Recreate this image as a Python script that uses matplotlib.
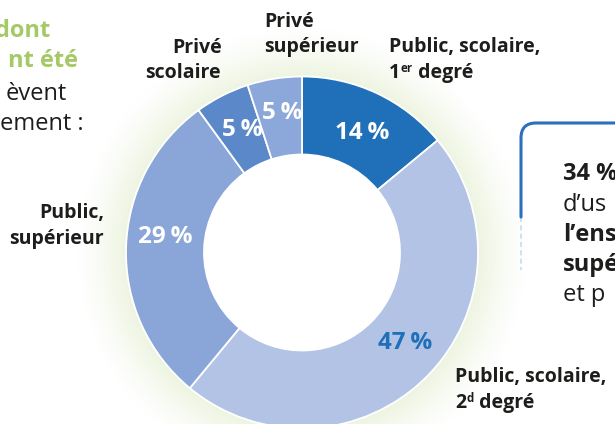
import numpy as np
import matplotlib.pyplot as plt
from matplotlib.path import Path
from matplotlib.patches import PathPatch

# data
categories = ["Public, scolaire, 1er degré", "Public, scolaire, 2d degré",
              "Public, supérieur", "Privé scolaire", "Privé supérieur"]
shares = [14, 47, 29, 5, 5]
colors = ["#1f70b8", "#b3c3e5", "#8aa5d8", "#5a88c8", "#8ca7da"]
pct_colors = ["white", "#1f70b8", "white", "white", "white"]

W, H = 615, 424
fig = plt.figure(figsize=(W / 100, H / 100), dpi=100)
ax = fig.add_axes([0, 0, 1, 1])

def fy(y):
    # image rows -> axis y
    return H - y

cx, cy = 302, fy(252.5)
R, r = 176, 98

# soft green glow round the outside of the ring only
xx, yy = np.meshgrid(np.arange(W) + 0.5, np.arange(H) + 0.5)
d = np.hypot(xx - cx, (H - yy) - cy)
alpha = np.clip(1 - (d - R) / 50, 0, 1) ** 1.3 * 0.6
alpha[d < R - 4] = 0
glow = np.zeros((H, W, 4))
glow[..., 0], glow[..., 1], glow[..., 2] = 0.89, 0.93, 0.80
glow[..., 3] = alpha
ax.imshow(glow, extent=(0, W, 0, H), origin="upper", zorder=0)

wedges, _ = ax.pie(shares, colors=colors, startangle=90, counterclock=False,
                   radius=R, center=(cx, cy),
                   wedgeprops=dict(width=R - r, edgecolor="white", linewidth=1.3))
for w in wedges:
    w.set_zorder(2)
ax.set_xlim(0, W)
ax.set_ylim(0, H)
ax.set_aspect("equal")
ax.axis("off")

fam = ["Open Sans", "DejaVu Sans"]
dark = "#1d1d1b"

# percentage labels
pct_pos = [(362, 133), (405, 343), (165, 237), (242, 130), (282, 113)]
for v, (x, y), c in zip(shares, pct_pos, pct_colors):
    ax.text(x, fy(y), f"{v}\u2009%", color=c, fontsize=17.5, fontweight="bold",
            family=fam, ha="center", va="center", zorder=3)

fig.canvas.draw()
rend = fig.canvas.get_renderer()

def runs(x, y, pieces, size=14):
    # pieces: (text, superscript?)
    for txt, sup in pieces:
        t = ax.text(x, fy(y) + (6 if sup else 0), txt, fontsize=size * (0.6 if sup else 1),
                    fontweight="bold", family=fam, color=dark, ha="left",
                    va="baseline", zorder=3)
        x += t.get_window_extent(rend).width + (1 if sup else 0)

lab = dict(fontsize=14, fontweight="bold", family=fam, color=dark, zorder=3,
           va="baseline")
ax.text(222, fy(53), "Privé", ha="right", **lab)
ax.text(183, fy(78), "scolaire", ha="center", **lab)
ax.text(264, fy(27), "Privé", ha="left", **lab)
ax.text(264, fy(52), "supérieur", ha="left", **lab)
ax.text(389, fy(52), "Public, scolaire,", ha="left", **lab)
runs(389, 78, [("1", False), ("er", True), (" degré", False)])
ax.text(104, fy(218), "Public,", ha="right", **lab)
ax.text(104, fy(244), "supérieur", ha="right", **lab)
ax.text(455, fy(382), "Public, scolaire,", ha="left", **lab)
runs(455, 408, [("2", False), ("d", True), (" degré", False)])

# left text block (cut by the frame)
green = "#a4c965"
left = dict(fontsize=17, family=fam, ha="right", va="baseline", zorder=3)
ax.text(50, fy(37), "dont", color=green, fontweight="bold", **left)
ax.text(78, fy(67), "nt été", color=green, fontweight="bold", **left)
ax.text(67, fy(100), "èvent", color=dark, **left)
ax.text(84, fy(130), "ement :", color=dark, **left)

# box on the right
blue = "#2a70bf"
verts = [(521, fy(217)), (521, fy(138)), (521, fy(123)), (536, fy(123)), (640, fy(123))]
codes = [Path.MOVETO, Path.LINETO, Path.CURVE3, Path.CURVE3, Path.LINETO]
ax.add_patch(PathPatch(Path(verts, codes), fill=False, edgecolor=blue, lw=2.2,
                       capstyle="round", zorder=3))
ax.plot([521, 521], [fy(217), fy(270)], color=blue, lw=1.2, alpha=0.25,
        ls=(0, (3, 2)), zorder=3)

box = dict(family=fam, color=dark, ha="left", va="baseline", zorder=3, fontsize=17)
ax.text(563, fy(180), "34 %", fontweight="bold", **box)
ax.text(563, fy(211), "d\u2019us", **box)
ax.text(563, fy(241), "l\u2019ens", fontweight="bold", **box)
ax.text(563, fy(271), "supé", fontweight="bold", **box)
ax.text(563, fy(301), "et p", **box)

fig.savefig("out.png", dpi=100)
